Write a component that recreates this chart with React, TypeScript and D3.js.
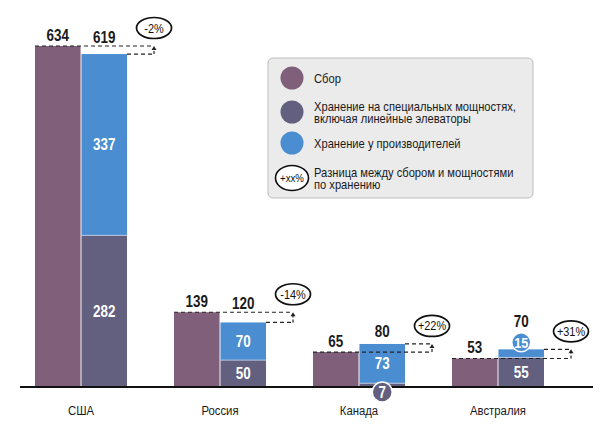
import React from "react";
import * as d3 from "d3";

const categories = ["США", "Россия", "Канада", "Австралия"];
const harvest = [634, 139, 65, 53];
const storageSpecial = [282, 50, 7, 55];
const storageProducers = [337, 70, 73, 15];
const storageTotal = [619, 120, 80, 70];
const diffLabels = ["-2%", "-14%", "+22%", "+31%"];

const legendItems = [
  { key: "harvest", lines: ["Сбор"] },
  { key: "special", lines: ["Хранение на специальных мощностях,", "включая линейные элеваторы"] },
  { key: "producers", lines: ["Хранение у производителей"] },
  { key: "diff", lines: ["Разница между сбором и мощностями", "по хранению"] },
];

const COLORS: Record<string, string> = {
  harvest: "#7f5f7a",
  special: "#625f7f",
  producers: "#4a8dd0",
};

const FONT = "'Liberation Sans', Arial, sans-serif";

function NText(props: {
  x: number; y: number; size: number; bold?: boolean; fill?: string;
  anchor?: "start" | "middle" | "end"; sx?: number; children: React.ReactNode;
}) {
  const { x, y, size, bold, fill = "#1a1a1a", anchor = "middle", sx = 0.84, children } = props;
  return (
    <g transform={`translate(${x},${y}) scale(${sx},1)`}>
      <text x={0} y={0} textAnchor={anchor} fontSize={size} fontWeight={bold ? "bold" : "normal"} fill={fill}>
        {children}
      </text>
    </g>
  );
}

export default function App() {
  const W = 603, H = 430;
  const baseY = 387;
  const x = d3.scaleBand<string>().domain(categories).range([35, 544]).paddingInner(0.338).paddingOuter(0);
  const inner = d3.scaleBand<string>().domain(["h", "s"]).range([0, x.bandwidth()]).paddingInner(0.02);
  const y = d3.scaleLinear().domain([0, d3.max(harvest) as number]).range([baseY, 46]);

  return (
    <svg width={W} height={H} style={{ position: "absolute", left: 0, top: 0, fontFamily: FONT }}>
      <rect width={W} height={H} fill="#fff" />
      {categories.map((c, i) => {
        const x0 = x(c) as number;
        const hx = x0 + (inner("h") as number);
        const sx = x0 + (inner("s") as number);
        const bw = inner.bandwidth();
        const yH = y(harvest[i]);
        const ySpec = y(storageSpecial[i]);
        const yTot = y(storageSpecial[i] + storageProducers[i]);
        const specH = baseY - ySpec;
        const prodH = ySpec - yTot;
        const xArrow = sx + bw + 27;
        const yTop = Math.min(yH, yTot);
        const yBot = Math.max(yH, yTot);
        const smallSpec = specH < 15;
        const smallProd = prodH < 15;
        const totLabelY = smallProd ? yTot - 22 : Math.min(yH - 3, yTot - 7);
        return (
          <g key={c}>
            <rect x={hx} y={yH} width={bw} height={baseY - yH} fill={COLORS.harvest} />
            <rect x={sx} y={ySpec} width={bw} height={specH} fill={COLORS.special} />
            <rect x={sx} y={yTot} width={bw} height={prodH} fill={COLORS.producers} />
            <line x1={sx} x2={sx + bw} y1={ySpec} y2={ySpec} stroke="#c9d6ea" strokeWidth={0.8} />
            <line x1={hx} x2={xArrow} y1={yH} y2={yH} stroke="#222" strokeWidth={1.2} strokeDasharray="4,3" />
            <line x1={sx + bw} x2={xArrow} y1={yTot} y2={yTot} stroke="#222" strokeWidth={1.2} strokeDasharray="4,3" />
            <line x1={xArrow} x2={xArrow} y1={yBot} y2={yTop + 2} stroke="#222" strokeWidth={1.2} strokeDasharray="3,2" />
            <path d={`M${xArrow - 2.5},${yTop + 4} L${xArrow},${yTop} L${xArrow + 2.5},${yTop + 4} Z`} fill="#222" />
            <ellipse cx={xArrow} cy={yTop - 18} rx={17.5} ry={10.5} fill="#fff" stroke="#111" strokeWidth={1.7} />
            <NText x={xArrow} y={yTop - 13.5} size={13} fill="#111">{diffLabels[i]}</NText>
            <NText x={hx + bw / 2} y={yH - 5} size={16} bold>{harvest[i]}</NText>
            <NText x={sx + bw / 2} y={totLabelY} size={16} bold>{storageTotal[i]}</NText>
            {!smallSpec && (
              <NText x={sx + bw / 2} y={(ySpec + baseY) / 2 + 5.5} size={16} bold fill="#fff">{storageSpecial[i]}</NText>
            )}
            {smallProd ? (
              <g>
                <circle cx={sx + bw / 2} cy={yTot - 7} r={9.5} fill={COLORS.producers} stroke="#fff" strokeWidth={1.5} />
                <NText x={sx + bw / 2} y={yTot - 1.5} size={15} bold fill="#fff">{storageProducers[i]}</NText>
              </g>
            ) : (
              <NText x={sx + bw / 2} y={(ySpec + yTot) / 2 + 5.5} size={16} bold fill="#fff">{storageProducers[i]}</NText>
            )}
            <NText x={x0 + x.bandwidth() / 2} y={415} size={13.5}>{c}</NText>
          </g>
        );
      })}
      <line x1={20} x2={593} y1={baseY} y2={baseY} stroke="#111" strokeWidth={2} />
      {categories.map((c, i) => {
        const specH = baseY - y(storageSpecial[i]);
        if (specH >= 15) return null;
        const sx = (x(c) as number) + (inner("s") as number);
        const bw = inner.bandwidth();
        return (
          <g key={"c" + c}>
            <circle cx={sx + bw / 2} cy={baseY + 5} r={10} fill={COLORS.special} stroke="#fff" strokeWidth={1.5} />
            <NText x={sx + bw / 2} y={baseY + 10.5} size={16} bold fill="#fff">{storageSpecial[i]}</NText>
          </g>
        );
      })}
      <g>
        <rect x={268} y={58} width={265} height={140} rx={5} fill="#ebebeb" stroke="#bdbdbd" strokeWidth={1} />
        {legendItems.map((it, i) => {
          const cy = [78, 112, 143, 178][i];
          return (
            <g key={it.key}>
              {it.key === "diff" ? (
                <g>
                  <ellipse cx={292} cy={cy} rx={16.5} ry={12.5} fill="#fff" stroke="#111" strokeWidth={1.6} />
                  <NText x={292} y={cy + 4} size={11.5} fill="#111">+xx%</NText>
                </g>
              ) : (
                <circle cx={292} cy={cy} r={11.5} fill={COLORS[it.key]} />
              )}
              {it.lines.map((ln, j) => (
                <NText key={j} x={314} y={cy + 4.5 + (j - (it.lines.length - 1) / 2) * 12} size={12} sx={0.93} anchor="start">{ln}</NText>
              ))}
            </g>
          );
        })}
      </g>
    </svg>
  );
}
